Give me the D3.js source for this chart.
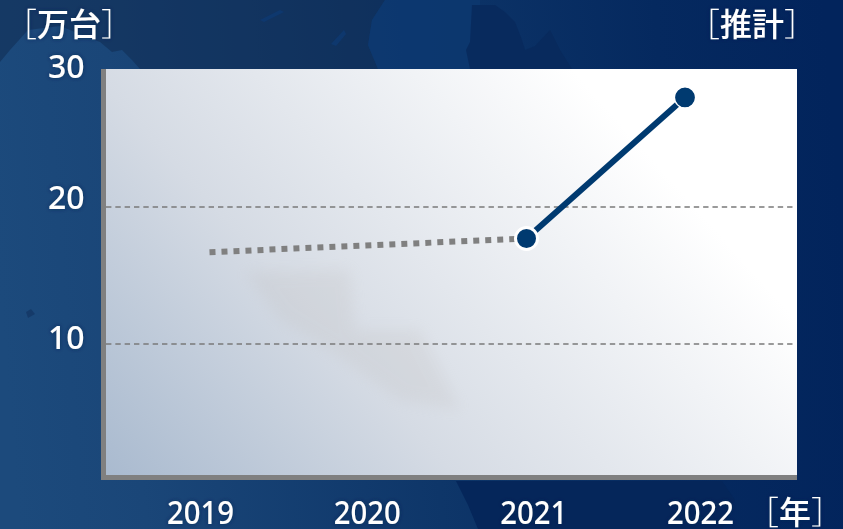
<!DOCTYPE html>
<html>
<head>
<meta charset="utf-8">
<script src="https://cdn.jsdelivr.net/npm/d3@7"></script>
<style>
html,body{margin:0;padding:0;background:#02245c;overflow:hidden}
text{font-family:"Noto Sans","Noto Sans CJK JP",sans-serif;fill:#fff}
</style>
</head>
<body>
<svg id="chart" width="843" height="529"></svg>
<script>
// Yearly unit volumes, in units of 10,000
const years = ["2019", "2020", "2021", "2022"];
const estimateYears = ["2019", "2021"];
const estimateValues = [16.7, 17.7];
const actualYears = ["2021", "2022"];
const actualValues = [17.7, 28];
const yTicks = [10, 20, 30];
const gridTicks = [10, 20];

const svg = d3.select("#chart");
const defs = svg.append("defs");

const bg = defs.append("linearGradient").attr("id", "bg")
  .attr("gradientUnits", "userSpaceOnUse")
  .attr("x1", 0).attr("y1", 300).attr("x2", 843).attr("y2", 230);
[[0, "#1c4a7c"], [0.15, "#1a4678"], [0.5, "#0e3669"], [0.8, "#05295f"], [1, "#02245c"]]
  .forEach(([o, c]) => bg.append("stop").attr("offset", o).attr("stop-color", c));

const panelFill = defs.append("linearGradient").attr("id", "panelFill")
  .attr("gradientUnits", "userSpaceOnUse")
  .attr("x1", 106).attr("y1", 475).attr("x2", 566).attr("y2", 63);
[[0, "#a9bacf"], [0.42, "#d5dbe4"], [1, "#ffffff"]]
  .forEach(([o, c]) => panelFill.append("stop").attr("offset", o).attr("stop-color", c));

const glow = defs.append("filter").attr("id", "glow")
  .attr("x", "-20%").attr("y", "-20%").attr("width", "140%").attr("height", "140%");
glow.append("feDropShadow").attr("dx", 0).attr("dy", 0)
  .attr("stdDeviation", 2).attr("flood-color", "#0a2450").attr("flood-opacity", 0.7);

defs.append("filter").attr("id", "soft")
  .attr("x", "-20%").attr("y", "-20%").attr("width", "140%").attr("height", "140%")
  .append("feGaussianBlur").attr("stdDeviation", 7);

// Backdrop: page gradient plus faint land masses
svg.append("rect").attr("width", 843).attr("height", 529).attr("fill", "url(#bg)");
const land = svg.append("g");
land.append("path") // darker sea across the top left, leaving the western land mass bright
  .attr("d", "M0,0H385L372,20L368,45L378,69H140L132,60L122,50L112,52L100,42L60,26L28,30L10,50L0,62Z")
  .attr("fill", "#112c52").attr("opacity", 0.55);
land.append("path")
  .attr("d", "M385,0H480V69H378L368,45L372,20Z")
  .attr("fill", "#0d3871").attr("opacity", 0.8);
land.append("path")
  .attr("d", "M472,5H495L505,12L515,22L522,40L525,50L535,46L550,30L560,50L572,69H470L466,50L470,42Z")
  .attr("fill", "#08295c").attr("opacity", 0.85);
land.append("path").attr("d", "M260,20L280,10L284,12L264,22Z").attr("fill", "#0e3a72").attr("opacity", 0.8);
land.append("path").attr("d", "M331,44L344,30L346,34L336,46Z").attr("fill", "#0e3a72").attr("opacity", 0.8);
land.append("path").attr("d", "M26,312L31,309L35,314L28,318Z").attr("fill", "#123562").attr("opacity", 0.7);
land.append("path")
  .attr("d", "M456,481H722L735,500L722,529H478L468,505Z")
  .attr("fill", "#05265a");

// Plot panel with its grey left and bottom walls
const plot = { left: 106, right: 797, top: 69, bottom: 475 };
svg.append("rect")
  .attr("x", 101).attr("y", plot.top)
  .attr("width", plot.right - 101).attr("height", 411)
  .attr("fill", "#808080");
svg.append("rect")
  .attr("x", plot.left).attr("y", plot.top)
  .attr("width", plot.right - plot.left).attr("height", plot.bottom - plot.top)
  .attr("fill", "url(#panelFill)");
svg.append("path")
  .attr("d", "M245,272L350,270L355,330L420,330L460,410L400,400L330,350L280,320Z")
  .attr("fill", "#b8b4b0").attr("opacity", 0.16).attr("filter", "url(#soft)");

// Scales: points sit on one band, year labels on a slightly wider one
const x = d3.scalePoint().domain(years).range([209.5, 685]);
const xLabel = d3.scalePoint().domain(years).range([200.5, 700.5]);
const y = d3.scaleLinear().domain([0, 30]).range([481, 70]);

svg.append("g").selectAll("line").data(gridTicks).join("line")
  .attr("x1", plot.left).attr("x2", 795)
  .attr("y1", d => y(d)).attr("y2", d => y(d))
  .attr("stroke", "#7a7a7a").attr("stroke-width", 1.4)
  .attr("stroke-dasharray", "5.4 3.93");

const line = d3.line().x(d => x(d[0])).y(d => y(d[1]));

svg.append("path")
  .attr("d", line(d3.zip(estimateYears, estimateValues)))
  .attr("fill", "none").attr("stroke", "#808080")
  .attr("stroke-width", 6).attr("stroke-dasharray", "6 6");

svg.append("path")
  .attr("d", line(d3.zip(actualYears, actualValues)))
  .attr("fill", "none").attr("stroke", "#003a70").attr("stroke-width", 6);

// The 2021 marker carries a heavy white ring, the 2022 marker a hairline one
svg.append("g").selectAll("circle").data(d3.zip(actualYears, actualValues)).join("circle")
  .attr("cx", d => x(d[0])).attr("cy", d => y(d[1])).attr("r", (d, i) => i ? 10.5 : 11)
  .attr("fill", "#003a70").attr("stroke", "#fff").attr("stroke-width", (d, i) => i ? 1.2 : 3);

// Axis labels; the tick numbers sit slightly off their grid lines
const labels = svg.append("g").attr("filter", "url(#glow)").attr("font-weight", 500);
const tickLabelShift = d3.scaleOrdinal().domain(yTicks).range([5, 2, 8]);

labels.selectAll("text.y").data(yTicks).join("text")
  .attr("class", "y").attr("text-anchor", "start")
  .attr("x", 48).attr("y", d => y(d) + tickLabelShift(d))
  .attr("font-size", 32)
  .text(d => d);

labels.selectAll("text.x").data(years).join("text")
  .attr("class", "x").attr("text-anchor", "middle")
  .attr("x", d => xLabel(d)).attr("y", 524)
  .attr("font-size", 33)
  .attr("textLength", 67).attr("lengthAdjust", "spacingAndGlyphs")
  .text(d => d);

function bracketed(cx, baseline, word) {
  const t = labels.append("text").attr("x", cx).attr("y", baseline)
    .attr("text-anchor", "middle").attr("font-size", 32)
    .attr("font-family", '"Noto Sans CJK JP"');
  t.append("tspan").attr("font-weight", 300).text("［");
  t.append("tspan").attr("font-weight", 500).text(word);
  t.append("tspan").attr("font-weight", 300).text("］");
}
bracketed(69, 36, "万台");
bracketed(752, 36, "推計");
bracketed(795, 524, "年");
</script>
</body>
</html>
